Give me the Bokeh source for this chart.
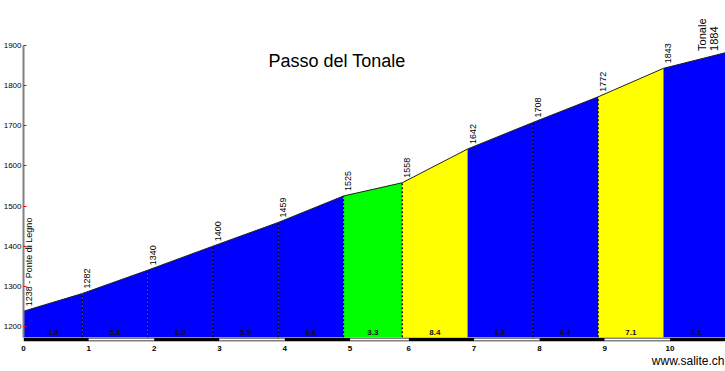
import math
from bokeh.plotting import figure
from bokeh.models import FixedTicker, Label, Range1d, Title
from bokeh.core.properties import value
from bokeh.embed import file_html
from bokeh.resources import INLINE

# ---------------- data ----------------
chart_title = "Passo del Tonale"
start_name = "Ponte di Legno"
summit_name = "Tonale"
site = "www.salite.ch"

dist_km = [0, 0.9, 1.9, 2.9, 3.9, 4.9, 5.8, 6.8, 7.8, 8.8, 9.8, 10.8]
elev_m = [1238, 1282, 1340, 1400, 1459, 1525, 1558, 1642, 1708, 1772, 1843, 1884]
grade_pct = [4.9, 5.8, 6.0, 5.9, 6.6, 3.3, 8.4, 6.6, 6.4, 7.1, 4.1]

km_marks = [0, 1, 2, 3, 4, 5, 5.9, 6.9, 7.9, 8.9, 9.9]
km_labels = ["0", "1", "2", "3", "4", "5", "6", "7", "8", "9", "10"]
y_ticks = [1200, 1300, 1400, 1500, 1600, 1700, 1800, 1900]

# ---------------- styling ----------------
FONT = "Liberation Sans"
BASE = 1173
BLUE, GREEN, YELLOW = "#0000ff", "#00ff00", "#ffff00"


def grade_color(g):
    if g < 4:
        return GREEN
    if g > 7:
        return YELLOW
    return BLUE


seg_colors = [grade_color(g) for g in grade_pct]

p = figure(frame_width=702, frame_height=342, x_range=Range1d(0, 10.75), y_range=Range1d(1160, 2012),
           output_backend="svg", toolbar_location=None,
           min_border_left=23, min_border_right=0, min_border_top=0, min_border_bottom=0)
p.outline_line_color = None
p.grid.visible = False
p.background_fill_color = "white"
p.border_fill_color = "white"

# filled segments
xs, ys = [], []
for i in range(len(grade_pct)):
    x0, x1 = dist_km[i], dist_km[i + 1]
    xs.append([x0, x0, x1, x1])
    ys.append([BASE, elev_m[i], elev_m[i + 1], BASE])
p.patches(xs, ys, fill_color=seg_colors, line_color=None)

# dotted separators
for i in range(1, len(dist_km) - 1):
    if seg_colors[i - 1] == YELLOW:
        continue
    p.segment(x0=dist_km[i], y0=BASE, x1=dist_km[i], y1=elev_m[i],
              line_color="black", line_dash="2 2", line_width=1.3)

# profile outline
p.line(dist_km, elev_m, line_color="#202020", line_width=1)

# km bar at the bottom
bar_left = km_marks
bar_right = km_marks[1:] + [dist_km[-1]]
p.quad(left=bar_left, right=bar_right, bottom=1163, top=1172, fill_color="black", line_color=None)
wl = [bar_left[i] for i in range(len(bar_left)) if i % 2 == 1]
wr = [bar_right[i] for i in range(len(bar_left)) if i % 2 == 1]
p.quad(left=wl, right=wr, bottom=1165, top=1170, fill_color="white", line_color=None)

# gradient labels
mids = [(dist_km[i] + dist_km[i + 1]) / 2 for i in range(len(grade_pct))]
p.text(x=mids, y=[BASE] * len(mids), text=[f"{g:.1f}" for g in grade_pct],
       text_align="center", text_baseline="bottom", y_offset=-2,
       text_font=value(FONT), text_font_size="8px", text_font_style="bold", text_color="#101010")

# elevation labels
lab_text = [f"{elev_m[0]} - {start_name}"] + [str(e) for e in elev_m[1:-1]]
p.text(x=dist_km[:-1], y=elev_m[:-1], text=lab_text, angle=math.pi / 2,
       text_align="left", text_baseline="middle", x_offset=5, y_offset=-5,
       text_font=value(FONT), text_font_size="9px", text_color="black")
p.text(x=[dist_km[-1]], y=[elev_m[-1]], text=[f"{summit_name}\n{elev_m[-1]}"], angle=math.pi / 2,
       text_align="left", text_baseline="middle", x_offset=-21, y_offset=-1,
       text_font=value(FONT), text_font_size="11px", text_color="black", text_line_height=1.0)

# axes
ya = p.yaxis[0]
ya.ticker = FixedTicker(ticks=y_ticks)
ya.bounds = (BASE, 1900)
ya.axis_line_color = "#808080"
ya.axis_line_width = 2
ya.major_tick_in = 3
ya.major_tick_out = 0
ya.major_tick_line_color = "red"
ya.minor_tick_line_color = None
ya.major_label_standoff = 2
ya.major_label_text_font = FONT
ya.major_label_text_font_size = "8px"
ya.major_label_text_color = "black"

xa = p.xaxis[0]
xa.ticker = FixedTicker(ticks=km_marks)
xa.major_label_overrides = {k: l for k, l in zip(km_marks, km_labels)}
xa.axis_line_color = None
xa.major_tick_line_color = None
xa.major_tick_out = 0
xa.major_tick_in = 0
xa.minor_tick_line_color = None
xa.minor_tick_out = 0
xa.minor_tick_in = 0
xa.major_label_standoff = 3
xa.major_label_text_font = FONT
xa.major_label_text_font_size = "8px"
xa.major_label_text_font_style = "bold"
xa.major_label_text_color = "black"

# title and site
p.add_layout(Label(x=4.80, y=1862.5, text=chart_title, text_align="center", text_baseline="middle",
                   text_font=FONT, text_font_size="18px", text_color="black"))
p.add_layout(Title(text=site, align="right", text_font=FONT, text_font_size="12px",
                   text_font_style="normal", text_color="black", standoff=0, offset=1,
                   text_line_height=1.0, vertical_align="top"), "below")

open("out.html", "w").write(file_html(p, INLINE))
